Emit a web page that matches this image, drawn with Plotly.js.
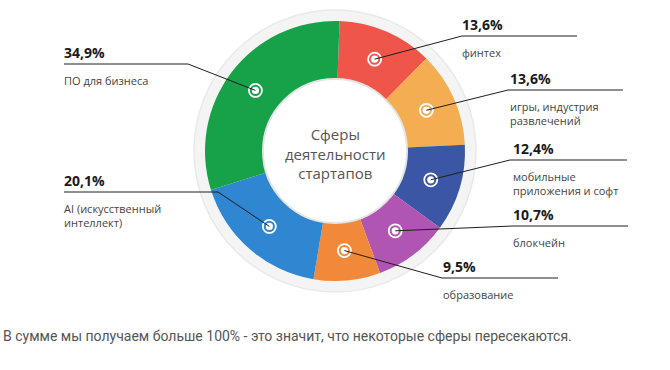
<!DOCTYPE html>
<html><head><meta charset="utf-8">
<script src="https://cdn.plot.ly/plotly-3.0.1.min.js"></script>
<style>html,body{margin:0;padding:0;background:#fff}#chart{width:670px;height:370px}</style>
</head><body><div id="chart"></div>
<script>
// ---- data ----
const categories = ['финтех', 'игры, индустрия<br>развлечений', 'мобильные<br>приложения и софт', 'блокчейн', 'образование', 'AI (искусственный<br>интеллект)', 'ПО для бизнеса'];
const values = [13.6, 13.6, 12.4, 10.7, 9.5, 20.1, 34.9];
const colors = ['#f0554a', '#f5ad52', '#3a56a5', '#b055b2', '#f08a3a', '#2e87d0', '#17a24a'];
const valueLabels = values.map(v => v.toFixed(1).replace('.', ',') + '%');
const centerTitle = 'Сферы<br>деятельности<br>стартапов';
const footnote = 'В сумме мы получаем больше 100% - это значит, что некоторые сферы пересекаются.';

// ---- layout (pixels) ----
const W = 670, H = 370, CX = 335, CY = 151, R = 130, HOLE_R = 72, MR = 100, ROT = 2;
const callouts = [
  {elbowX: 462, lineY: 36,  textX: 462, endX: 577},
  {elbowX: 508, lineY: 90,  textX: 510, endX: 623},
  {elbowX: 510, lineY: 160, textX: 513, endX: 627},
  {elbowX: 513, lineY: 226, textX: 513, endX: 628},
  {elbowX: 442, lineY: 278, textX: 443, endX: 558},
  {elbowX: 218, lineY: 192, textX: 64,  endX: 64},
  {elbowX: 188, lineY: 64,  textX: 64,  endX: 64}
];
const px = x => x / W;
const py = y => 1 - y / H;

const total = values.reduce((a, b) => a + b, 0);
let cum = 0;
const mids = values.map(v => { const m = ROT + (cum + v / 2) / total * 360; cum += v; return m; });

const shapes = [];
const annotations = [];
// outer light ring
shapes.push({type: 'circle', xref: 'paper', yref: 'paper', layer: 'below',
  x0: px(CX - 141), x1: px(CX + 141), y0: py(CY + 141), y1: py(CY - 141),
  fillcolor: '#f4f4f4', line: {color: '#e9e9e9', width: 1.5}});
// inner white disc
shapes.push({type: 'circle', xref: 'paper', yref: 'paper', layer: 'above',
  x0: px(CX - HOLE_R), x1: px(CX + HOLE_R), y0: py(CY + HOLE_R), y1: py(CY - HOLE_R),
  fillcolor: '#ffffff', line: {color: '#e4e4e4', width: 2}});

mids.forEach((a, i) => {
  const t = a * Math.PI / 180;
  const mx = CX + MR * Math.sin(t), my = CY - MR * Math.cos(t);
  const c = callouts[i];
  // target marker
  shapes.push({type: 'circle', xref: 'paper', yref: 'paper', layer: 'above',
    x0: px(mx - 6.5), x1: px(mx + 6.5), y0: py(my + 6.5), y1: py(my - 6.5),
    fillcolor: colors[i], line: {color: '#ffffff', width: 1.8}});
  shapes.push({type: 'circle', xref: 'paper', yref: 'paper', layer: 'above',
    x0: px(mx - 3.6), x1: px(mx + 3.6), y0: py(my + 3.6), y1: py(my - 3.6),
    fillcolor: '#ffffff', line: {width: 0}});
  // leader line
  shapes.push({type: 'path', xref: 'paper', yref: 'paper', layer: 'above',
    path: `M ${px(mx)} ${py(my)} L ${px(c.elbowX)} ${py(c.lineY)} L ${px(c.endX)} ${py(c.lineY)}`,
    line: {color: '#1e1e1e', width: 1}});
  annotations.push({xref: 'paper', yref: 'paper', x: px(c.textX - 2), y: py(c.lineY - 12),
    xanchor: 'left', yanchor: 'middle', showarrow: false, text: '<b>' + valueLabels[i] + '</b>',
    font: {family: 'Open Sans', size: 14, color: '#1a1a1a'}});
  annotations.push({xref: 'paper', yref: 'paper', x: px(c.textX - 2), y: py(c.lineY + 7),
    xanchor: 'left', yanchor: 'top', align: 'left', showarrow: false, text: categories[i],
    font: {family: 'Open Sans', size: 11, color: '#444'}});
});

annotations.push({xref: 'paper', yref: 'paper', x: px(CX), y: py(CY + 2), xanchor: 'center', yanchor: 'middle',
  showarrow: false, text: centerTitle, font: {family: 'Open Sans', size: 15, color: '#555'}});
annotations.push({xref: 'paper', yref: 'paper', x: px(1), y: py(336), xanchor: 'left', yanchor: 'middle',
  showarrow: false, text: footnote, font: {family: 'Roboto', size: 14, color: '#555'}});

const trace = {
  type: 'pie', values: values, labels: categories, sort: false, direction: 'clockwise', rotation: ROT,
  hole: HOLE_R / R, marker: {colors: colors, line: {width: 0}}, textinfo: 'none', hoverinfo: 'none',
  showlegend: false,
  domain: {x: [px(CX - R), px(CX + R)], y: [py(CY + R), py(CY - R)]}
};

Plotly.newPlot('chart', [trace], {
  width: W, height: H, margin: {l: 0, r: 0, t: 0, b: 0},
  paper_bgcolor: '#fff', plot_bgcolor: '#fff', showlegend: false,
  shapes: shapes, annotations: annotations
}, {staticPlot: true, displayModeBar: false});
</script></body></html>
